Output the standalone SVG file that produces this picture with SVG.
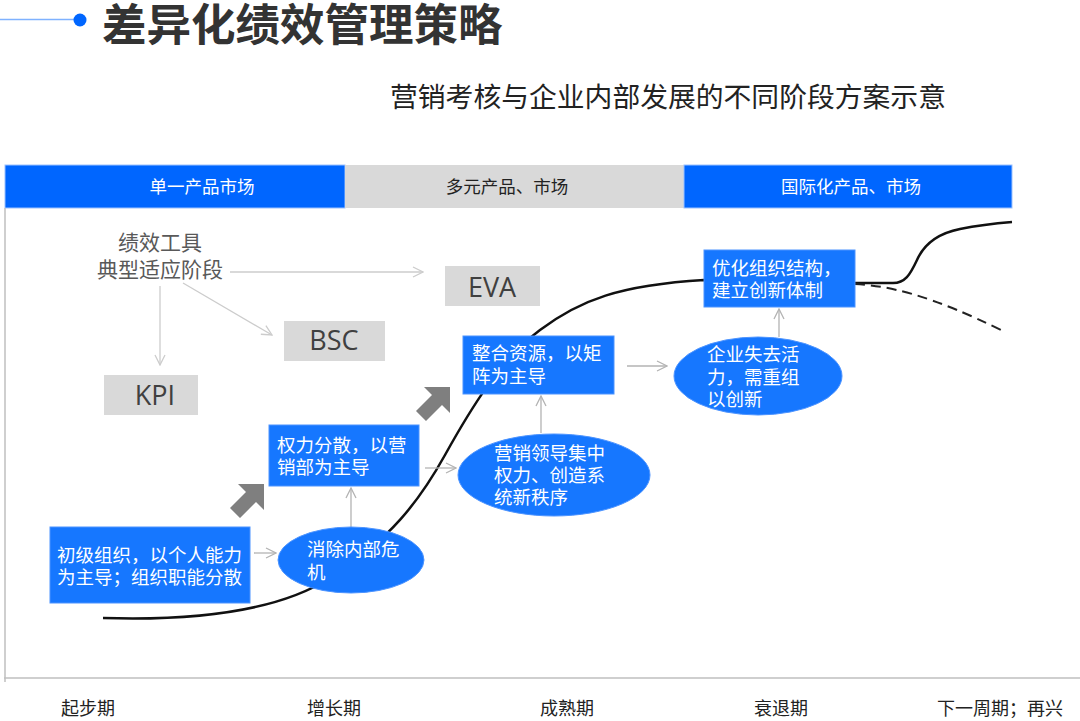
<svg xmlns="http://www.w3.org/2000/svg" width="1080" height="721" viewBox="0 0 1080 721">
<defs>
<style>
.cjk{font-family:"Noto Sans CJK SC","Noto Sans",sans-serif;}
.hd{font-size:17.5px;fill:#ffffff;text-anchor:middle;}
.hdg{font-size:17.5px;fill:#222;text-anchor:middle;}
.nt{font-size:18.5px;fill:#ffffff;}
.box{fill:#1677ff;stroke:#4d94ff;stroke-width:1;}
.tool{fill:#d9d9d9;}
.tt{font-family:"Open Sans","Noto Sans",sans-serif;font-size:27px;fill:#404040;text-anchor:middle;}
.lbl{font-size:18px;fill:#222;}
.con{stroke:#b3b3b3;stroke-width:1.3;fill:none;marker-end:url(#ah);}
.con2{stroke:#cccccc;stroke-width:1.3;fill:none;marker-end:url(#ah2);}
.blk{fill:#7f7f7f;}
</style>
<marker id="ah" viewBox="0 0 12 12" refX="11" refY="6" markerWidth="12" markerHeight="12" markerUnits="userSpaceOnUse" orient="auto">
<path d="M1,1 L11,6 L1,11" fill="none" stroke="#b3b3b3" stroke-width="1.3"/>
</marker>
<marker id="ah2" viewBox="0 0 12 12" refX="11" refY="6" markerWidth="12" markerHeight="12" markerUnits="userSpaceOnUse" orient="auto">
<path d="M1,1 L11,6 L1,11" fill="none" stroke="#cccccc" stroke-width="1.3"/>
</marker>
<polygon id="blockArrow" points="264,484 264,510 256,502 240,518 230,508 246,492 238,484"/>
</defs>
<rect x="0" y="0" width="1080" height="721" fill="#ffffff"/>

<g id="title">
<line x1="0" y1="19.5" x2="78" y2="19.5" stroke="#7fb2ff" stroke-width="1.5"/>
<circle cx="80" cy="20" r="6.5" fill="#0066ff"/>
<text class="cjk" x="102" y="41" font-size="44.5" font-weight="bold" fill="#333333">差异化绩效管理策略</text>
<text class="cjk" x="390" y="107" font-size="27.8" fill="#222222">营销考核与企业内部发展的不同阶段方案示意</text>
</g>

<g id="header">
<rect x="5" y="165" width="340" height="43" fill="#0066ff" stroke="#9cc2ff" stroke-width="1"/>
<rect x="345" y="165" width="339" height="43" fill="#d9d9d9"/>
<rect x="684" y="165" width="328" height="43" fill="#0066ff" stroke="#9cc2ff" stroke-width="1"/>
<text class="cjk hd" x="202" y="193">单一产品市场</text>
<text class="cjk hdg" x="507" y="193">多元产品、市场</text>
<text class="cjk hd" x="851" y="193">国际化产品、市场</text>
</g>

<g id="axes">
<line x1="5" y1="208" x2="5" y2="682" stroke="#bfbfbf" stroke-width="1.5"/>
<line x1="4" y1="678" x2="1080" y2="678" stroke="#bfbfbf" stroke-width="1.5"/>
</g>

<g id="curve">
<path d="M103,618 C200,621 280,610 330,578 C390,540 420,500 445,455 C470,410 500,360 540,330 C580,300 620,285 704,280 L855,283 L893,283 C905,283 910,275 917,260 C925,242 940,233 960,229 C980,225 1000,223 1012,222" fill="none" stroke="#111" stroke-width="2.5"/>
<path d="M855,284 C890,286 930,295 1003,331" fill="none" stroke="#222" stroke-width="2" stroke-dasharray="10,6"/>
</g>

<g id="connectors">
<line class="con2" x1="230" y1="272" x2="423" y2="272"/>
<line class="con2" x1="183" y1="283" x2="272" y2="335"/>
<line class="con2" x1="160" y1="286" x2="160" y2="365"/>
<line class="con" x1="254" y1="553" x2="276" y2="553"/>
<line class="con" x1="351" y1="527" x2="351" y2="488"/>
<line class="con" x1="425" y1="468" x2="456" y2="468"/>
<line class="con" x1="541" y1="433" x2="541" y2="396"/>
<line class="con" x1="627" y1="366" x2="667" y2="366"/>
<line class="con" x1="779" y1="337" x2="779" y2="309"/>
<use href="#blockArrow" class="blk"/>
<use href="#blockArrow" class="blk" transform="translate(186,-97)"/>
</g>

<g id="tools-label">
<text class="cjk" x="160" y="250" font-size="21" fill="#595959" text-anchor="middle">绩效工具</text>
<text class="cjk" x="160" y="277" font-size="21" fill="#595959" text-anchor="middle">典型适应阶段</text>
</g>
<g id="eva"><rect class="tool" x="445" y="266" width="95" height="40"/><text class="tt" x="492" y="297">EVA</text></g>
<g id="bsc"><rect class="tool" x="284" y="321" width="101" height="40"/><text class="tt" x="334" y="350">BSC</text></g>
<g id="kpi"><rect class="tool" x="104" y="375" width="94" height="40"/><text class="tt" x="155" y="405">KPI</text></g>

<g id="node1">
<rect class="box" x="50" y="527" width="200" height="76"/>
<text class="cjk nt" x="57" y="562">初级组织，以个人能力</text>
<text class="cjk nt" x="57" y="584">为主导；组织职能分散</text>
</g>
<g id="node2">
<ellipse class="box" cx="351" cy="560" rx="73" ry="33"/>
<text class="cjk nt" x="307" y="556">消除内部危</text>
<text class="cjk nt" x="307" y="579">机</text>
</g>
<g id="node3">
<rect class="box" x="269" y="425" width="150" height="61"/>
<text class="cjk nt" x="277" y="452">权力分散，以营</text>
<text class="cjk nt" x="277" y="474">销部为主导</text>
</g>
<g id="node4">
<ellipse class="box" cx="554" cy="475" rx="96" ry="41"/>
<text class="cjk nt" x="494" y="460">营销领导集中</text>
<text class="cjk nt" x="494" y="482">权力、创造系</text>
<text class="cjk nt" x="494" y="504">统新秩序</text>
</g>
<g id="node5">
<rect class="box" x="463" y="336" width="151" height="58"/>
<text class="cjk nt" x="472" y="360">整合资源，以矩</text>
<text class="cjk nt" x="472" y="383">阵为主导</text>
</g>
<g id="node6">
<ellipse class="box" cx="758" cy="376" rx="84" ry="39"/>
<text class="cjk nt" x="707" y="361">企业失去活</text>
<text class="cjk nt" x="707" y="384">力，需重组</text>
<text class="cjk nt" x="707" y="406">以创新</text>
</g>
<g id="node7">
<rect class="box" x="704" y="250" width="151" height="57"/>
<text class="cjk nt" x="712" y="275">优化组织结构，</text>
<text class="cjk nt" x="712" y="297">建立创新体制</text>
</g>

<g id="stages">
<text class="cjk lbl" x="61" y="715">起步期</text>
<text class="cjk lbl" x="307" y="715">增长期</text>
<text class="cjk lbl" x="540" y="715">成熟期</text>
<text class="cjk lbl" x="754" y="715">衰退期</text>
<text class="cjk lbl" x="937" y="715">下一周期；再兴</text>
</g>
</svg>
